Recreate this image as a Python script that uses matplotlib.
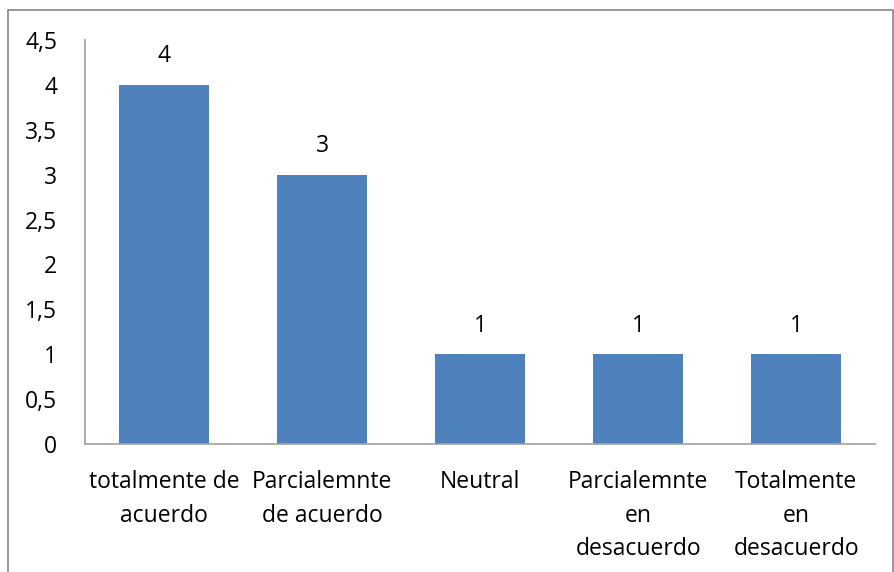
import matplotlib.pyplot as plt
from matplotlib.patches import Rectangle

categories = ["totalmente de\nacuerdo", "Parcialemnte\nde acuerdo", "Neutral",
              "Parcialemnte\nen\ndesacuerdo", "Totalmente\nen\ndesacuerdo"]
values = [4, 3, 1, 1, 1]
yticks = [0, 0.5, 1, 1.5, 2, 2.5, 3, 3.5, 4, 4.5]

plt.rcParams['font.family'] = ['Open Sans', 'DejaVu Sans']
fs = 16.5

fig = plt.figure(figsize=(8.95, 5.72), dpi=100)
ax = fig.add_axes([0.095, 0.2238, 0.883, 0.7062])

x = range(len(values))
ax.bar(x, values, width=0.57, color='#4F81BD')
for xi, v in zip(x, values):
    ax.annotate(str(v), (xi, v), xytext=(0, 12), textcoords='offset points',
                ha='center', va='bottom', fontsize=fs)

ax.set_xlim(-0.5, len(values) - 0.5)
ax.set_ylim(0, 4.5)
ax.set_yticks(yticks)
ax.set_yticklabels([f"{t:g}".replace('.', ',') for t in yticks], fontsize=fs)
ax.set_xticks(list(x))
ax.set_xticklabels(categories, fontsize=fs, linespacing=1.53)
ax.tick_params(axis='both', length=0)
ax.tick_params(axis='y', pad=20)
ax.tick_params(axis='x', pad=19)

for side in ['top', 'right']:
    ax.spines[side].set_visible(False)
for side in ['left', 'bottom']:
    ax.spines[side].set_color('#A0A0A0')
    ax.spines[side].set_linewidth(1.2)

# chart area frame
fig.patches.append(Rectangle((0.009, -0.01), 0.989, 0.993, transform=fig.transFigure,
                             fill=False, edgecolor='#868686', linewidth=1.2))

fig.savefig('out.png', dpi=100)
